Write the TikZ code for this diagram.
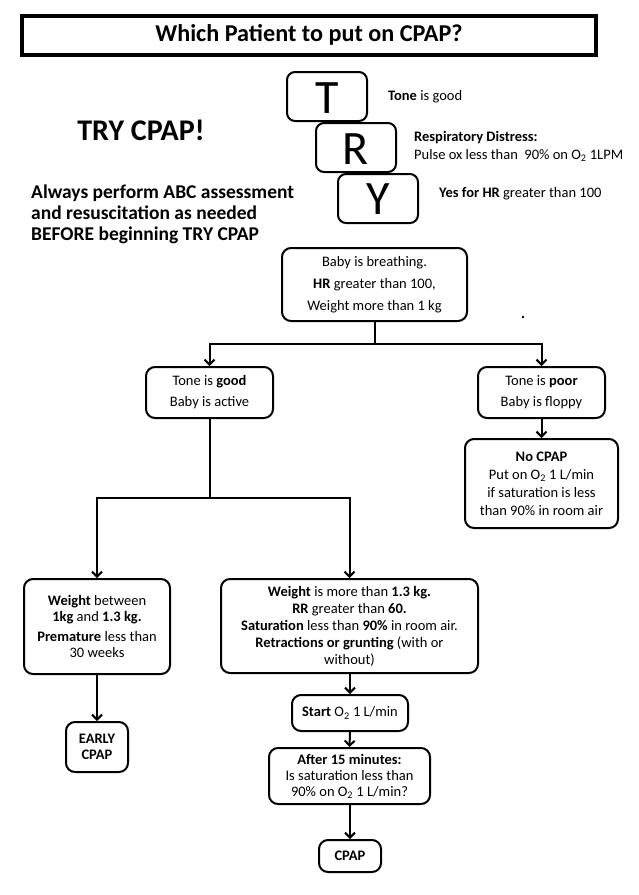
\documentclass[tikz,border=0pt]{standalone}
\usepackage{fontspec}
\setmainfont{Carlito}
\usetikzlibrary{arrows.meta}
\tikzset{
  flowbox/.style={draw=black, line width=2pt, rounded corners=9pt, align=center, inner sep=0pt,
    font=\fontsize{14.5}{17}\selectfont, text=black},
  letterbox/.style={draw=black, line width=2pt, rounded corners=8pt, minimum width=80pt, minimum height=49pt,
    inner sep=0pt},
  letterglyph/.style={anchor=base, inner sep=0pt, font=\fontsize{48}{48}\selectfont},
  titlebox/.style={draw=black, line width=3.2pt, minimum width=574pt, minimum height=39pt, inner sep=0pt,
    text height=15.5pt, text depth=4pt, font=\bfseries\fontsize{24.2}{24}\selectfont},
  side/.style={anchor=west, align=left, inner sep=0pt, font=\fontsize{14.5}{18}\selectfont},
  conn/.style={line width=2pt, line join=miter},
  arr/.style={conn, -{Straight Barb[length=5pt, width=10pt, line width=2pt]}},
}
\begin{document}
\begin{tikzpicture}[x=1pt, y=-1pt]
\useasboundingbox (0,0) rectangle (639,895);
\fill[white] (0,0) rectangle (639,895);

% title
\node[titlebox] (title) at (309,35.5) {Which Patient to put on CPAP?};

% TRY letters
\node[letterbox] (T) at (327,96.5) {};
\node[letterbox] (R) at (356,147.5) {};
\node[letterbox] (Y) at (378,198.5) {};
\node[letterglyph] (Tl) at ([yshift=-16.5pt]T.center) {T};
\node[letterglyph] (Rl) at ([yshift=-16.5pt]R.center) {R};
\node[letterglyph] (Yl) at ([yshift=-16pt]Y.center) {Y};

\node[side] (tdesc) at (388,97) {\textbf{Tone} is good};
\node[side] (rdesc) at (414,146) {\textbf{Respiratory Distress:}\\Pulse ox less than\ \ 90\% on O\textsubscript{2} 1LPM};
\node[side] (ydesc) at (439,194) {\textbf{Yes for HR} greater than 100};

\node[inner sep=0pt, font=\bfseries\fontsize{30}{30}\selectfont] (try) at (141,130) {TRY CPAP!};
\node[anchor=west, align=left, inner sep=0pt, font=\bfseries\fontsize{19.5}{21}\selectfont] (abc) at (31,214)
  {Always perform ABC assessment\\and resuscitation as needed\\BEFORE beginning TRY CPAP};

% stray dot
\fill (523,317) circle (1.3pt);

% flow boxes
\node[flowbox, minimum width=185pt, minimum height=73pt] (top) at (374.5,284.5)
  {Baby is breathing.\\[5pt]\textbf{HR} greater than 100,\\[5pt]Weight more than 1 kg};
\node[flowbox, minimum width=127pt, minimum height=51pt] (good) at (209.5,392.5)
  {Tone is \textbf{good}\\[4pt]Baby is active};
\node[flowbox, minimum width=127pt, minimum height=51pt] (poor) at (541.5,392.5)
  {Tone is \textbf{poor}\\[4pt]Baby is floppy};
\node[flowbox, minimum width=153pt, minimum height=89pt, font=\fontsize{14.5}{18}\selectfont] (nocpap) at (541.5,483.5)
  {\textbf{No CPAP}\\Put on O\textsubscript{2} 1 L/min\\if saturation is less\\than 90\% in room air};
\node[flowbox, minimum width=146pt, minimum height=95pt, font=\fontsize{14.5}{16}\selectfont] (wl) at (97,626.5)
  {\textbf{Weight} between\\\textbf{1kg} and \textbf{1.3 kg.}\\[4pt]\textbf{Premature} less than\\30 weeks};
\node[flowbox, minimum width=257pt, minimum height=94pt, font=\fontsize{14.5}{17}\selectfont] (wr) at (349.5,626)
  {\textbf{Weight} is more than \textbf{1.3 kg.}\\\textbf{RR} greater than \textbf{60.}\\\textbf{Saturation} less than \textbf{90\%} in room air.\\\textbf{Retractions or grunting} (with or\\without)};
\node[flowbox, minimum width=62pt, minimum height=50pt, font=\bfseries\fontsize{14.5}{16}\selectfont] (early) at (97,747)
  {EARLY\\CPAP};
\node[flowbox, minimum width=116pt, minimum height=36pt] (start) at (350,713)
  {\textbf{Start} O\textsubscript{2} 1 L/min};
\node[flowbox, minimum width=161pt, minimum height=56pt, font=\fontsize{14.5}{16}\selectfont] (after) at (349.5,776)
  {\textbf{After 15 minutes:}\\Is saturation less than\\90\% on O\textsubscript{2} 1 L/min?};
\node[flowbox, minimum width=62pt, minimum height=32pt, font=\bfseries\fontsize{14.5}{17}\selectfont] (cpap) at (350,856)
  {CPAP};

% connectors
\coordinate (j1) at (374.5,344);
\draw[conn] (top.south) -- (j1);
\draw[arr] (j1) -| (good.north);
\draw[arr] (j1) -| (poor.north);
\draw[arr] (poor.south) -- (nocpap.north);

\coordinate (j2) at (209.5,498);
\draw[conn] (good.south) -- (j2);
\draw[arr] (j2) -| (wl.north);
\draw[arr] (j2) -| (wr.north);

\draw[arr] (wl.south) -- (early.north);
\draw[arr] (wr.south -| start.north) -- (start.north);
\draw[arr] (start.south) -- (after.north);
\draw[arr] (after.south -| cpap.north) -- (cpap.north);
\end{tikzpicture}
\end{document}
